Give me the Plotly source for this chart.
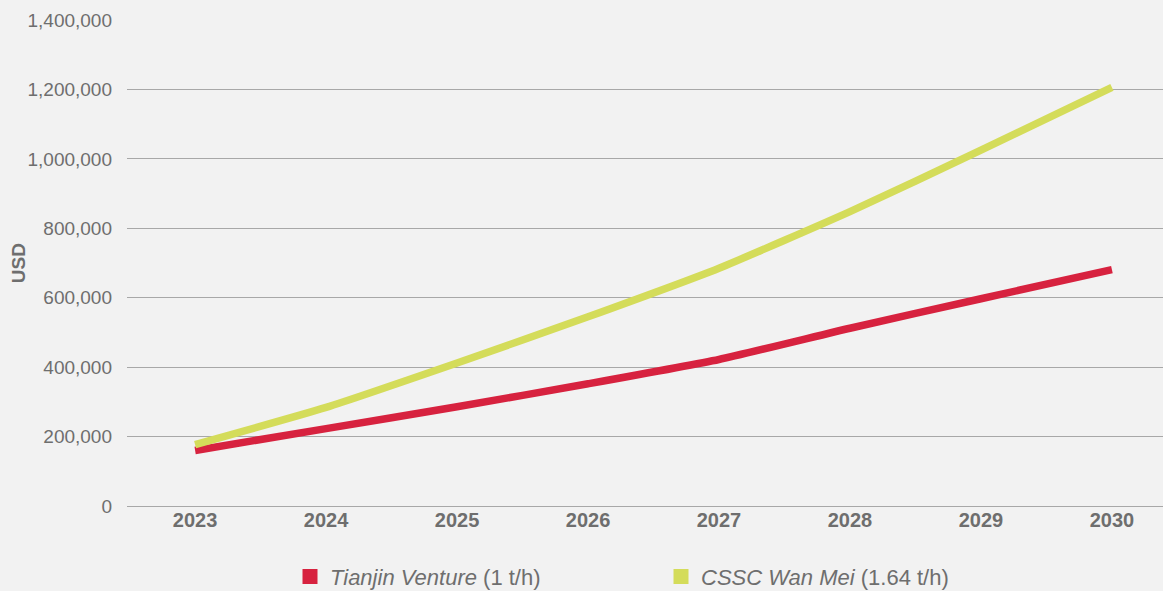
import plotly.graph_objects as go

years = ["2023", "2024", "2025", "2026", "2027", "2028", "2029", "2030"]
tianjin = [160000, 223000, 286000, 352000, 422000, 512000, 597000, 681000]
cssc = [177000, 284000, 412000, 545000, 685000, 848000, 1025000, 1206000]
series_names = ["<i>Tianjin Venture</i> (1 t/h)", "<i>CSSC Wan Mei</i> (1.64 t/h)"]
colors = ["#d7223f", "#d4dc5a"]
legend_ids = ["legend", "legend2"]
y_title = "USD"

x_idx = list(range(len(years)))

fig = go.Figure()
for name, vals, col in zip(series_names, [tianjin, cssc], colors):
    fig.add_trace(go.Scatter(
        x=x_idx, y=vals, name=name, mode="lines", showlegend=False,
        line=dict(color=col, width=7.5, shape="spline", smoothing=0.5),
    ))
# legend entries with square swatches
for name, col, lg in zip(series_names, colors, legend_ids):
    fig.add_trace(go.Scatter(
        x=[None], y=[None], name=name, mode="markers", legend=lg,
        marker=dict(color=col, symbol="square", size=15),
    ))

font = "Liberation Sans, Arial, sans-serif"
leg_common = dict(orientation="h", xref="container", yref="container",
                  xanchor="left", yanchor="middle", y=0.024,
                  font=dict(size=22, color="#6e6e6e"), itemwidth=30,
                  bgcolor="rgba(0,0,0,0)")
fig.update_layout(
    width=1163, height=591,
    paper_bgcolor="#f2f2f2", plot_bgcolor="#f2f2f2",
    margin=dict(l=127, r=0, t=20, b=85),
    font=dict(family=font, color="#6e6e6e", size=19),
    showlegend=True,
    legend=dict(x=290 / 1163, **leg_common),
    legend2=dict(x=661 / 1163, **leg_common),
    xaxis=dict(
        tickmode="array", tickvals=x_idx, ticktext=["<b>%s</b>" % y for y in years],
        range=[-0.52, 7.39], showgrid=False, zeroline=False, showline=False,
        ticks="", tickfont=dict(size=20, color="#6e6e6e"),
    ),
    yaxis=dict(
        range=[0, 1400000], dtick=200000, tickformat=",d",
        showgrid=True, gridcolor="#a8a8a8", gridwidth=1.3,
        zeroline=True, zerolinecolor="#a8a8a8", zerolinewidth=1.3,
        showline=False, ticks="", ticklabelstandoff=14,
        tickfont=dict(size=19, color="#6e6e6e"),
    ),
    annotations=[dict(
        text="<b>%s</b>" % y_title, textangle=-90, showarrow=False,
        xref="paper", yref="paper", x=-0.105, y=0.5,
        xanchor="center", yanchor="middle",
        font=dict(size=19, color="#6e6e6e"),
    )],
)

fig.write_html("out.html", config={"displayModeBar": False},
               post_script="document.body.style.margin='0';")
